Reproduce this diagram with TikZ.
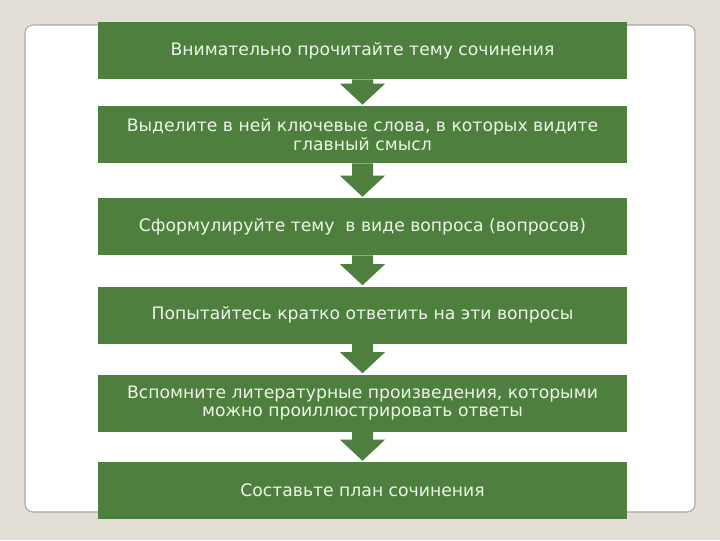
\documentclass[tikz,border=0pt]{standalone}
\usepackage{fontspec}
\setmainfont{DejaVu Sans}
\usetikzlibrary{calc}
\definecolor{bgc}{HTML}{E3DED5}
\definecolor{grn}{HTML}{4F7F3F}
\definecolor{txt}{HTML}{EEF5E8}
\definecolor{panelb}{HTML}{A8A8A8}
\begin{document}
\begin{tikzpicture}[x=0.75pt,y=-0.75pt,
  stepbox/.style={fill=grn,draw=none,minimum width=529*0.75pt,minimum height=57*0.75pt,
    text=txt,font=\fontsize{12.9pt}{14pt}\selectfont,align=center,inner sep=0pt},
  downarrow/.style={fill=grn,draw=none}]
\useasboundingbox (0,0) rectangle (720,540);
\fill[bgc] (0,0) rectangle (720,540);
\draw[panelb,fill=white,rounded corners=6pt,line width=0.8pt] (25,25) rectangle (695,512);
\node[stepbox] (b1) at (362.5,50.5) {Внимательно прочитайте тему сочинения};
\node[stepbox] (b2) at (362.5,134.5) {Выделите в ней ключевые слова, в которых видите\\главный смысл};
\node[stepbox] (b3) at (362.5,226.5) {Сформулируйте тему \ в виде вопроса (вопросов)};
\node[stepbox] (b4) at (362.5,315) {Попытайтесь кратко ответить на эти вопросы};
\node[stepbox] (b5) at (362.5,403) {Вспомните литературные произведения, которыми\\можно проиллюстрировать ответы};
\node[stepbox] (b6) at (362.5,490.5) {Составьте план сочинения};
\foreach \a/\b in {b1/b2,b2/b3,b3/b4,b4/b5,b5/b6}{
  \path (\a.south) coordinate (s) (\b.north) coordinate (t);
  \fill[downarrow] let \p1=(s), \p2=(t) in
    (\x1-10.5*0.75pt,\y1) -- (\x1+10.5*0.75pt,\y1) -- (\x1+10.5*0.75pt,\y2+22*0.75pt)
    -- (\x1+22.5*0.75pt,\y2+22*0.75pt) -- (\x1,\y2+1*0.75pt) -- (\x1-22.5*0.75pt,\y2+22*0.75pt)
    -- (\x1-10.5*0.75pt,\y2+22*0.75pt) -- cycle;
}
\end{tikzpicture}
\end{document}
